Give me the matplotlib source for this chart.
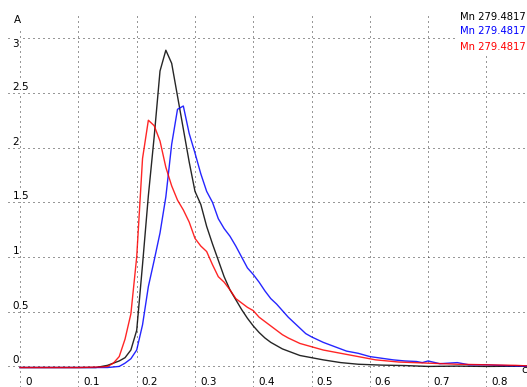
import matplotlib
matplotlib.use("Agg")
import matplotlib.pyplot as plt
from matplotlib.patches import Rectangle
from matplotlib.transforms import ScaledTranslation, blended_transform_factory

# series (x in time units, y in absorbance)
black_x = [0.0, 0.05, 0.10, 0.13, 0.14, 0.15, 0.16, 0.17, 0.18, 0.19, 0.20, 0.21, 0.22, 0.23,
           0.24, 0.25, 0.26, 0.27, 0.28, 0.29, 0.30, 0.31, 0.32, 0.33, 0.34, 0.35, 0.36, 0.37,
           0.38, 0.39, 0.40, 0.41, 0.42, 0.43, 0.44, 0.45, 0.46, 0.48, 0.50, 0.52, 0.55, 0.58,
           0.62, 0.66, 0.70, 0.75, 0.80, 0.87]
black_y = [-0.01, -0.01, -0.01, -0.01, 0.0, 0.01, 0.03, 0.05, 0.08, 0.15, 0.33, 0.93, 1.56, 2.10,
           2.70, 2.89, 2.77, 2.47, 2.17, 1.87, 1.60, 1.48, 1.28, 1.12, 0.97, 0.82, 0.70, 0.61,
           0.52, 0.44, 0.37, 0.31, 0.26, 0.22, 0.19, 0.16, 0.14, 0.10, 0.08, 0.06, 0.035, 0.02,
           0.012, 0.008, 0.0, 0.003, 0.0, 0.003]

blue_x = [0.0, 0.05, 0.10, 0.15, 0.16, 0.17, 0.18, 0.19, 0.20, 0.21, 0.22, 0.23, 0.24, 0.25,
          0.26, 0.27, 0.28, 0.29, 0.30, 0.31, 0.32, 0.33, 0.34, 0.35, 0.36, 0.37, 0.38, 0.39,
          0.40, 0.41, 0.42, 0.43, 0.44, 0.45, 0.46, 0.47, 0.48, 0.49, 0.50, 0.52, 0.54, 0.56,
          0.58, 0.60, 0.62, 0.64, 0.66, 0.68, 0.69, 0.70, 0.72, 0.75, 0.77, 0.80, 0.82, 0.85, 0.87]
blue_y = [-0.01, -0.01, -0.01, -0.01, -0.005, 0.0, 0.03, 0.07, 0.15, 0.38, 0.73, 0.97, 1.22, 1.55,
          2.03, 2.35, 2.38, 2.13, 1.95, 1.76, 1.60, 1.50, 1.35, 1.26, 1.19, 1.10, 1.00, 0.90,
          0.84, 0.77, 0.69, 0.62, 0.57, 0.51, 0.45, 0.40, 0.35, 0.30, 0.27, 0.22, 0.18, 0.14,
          0.12, 0.09, 0.075, 0.06, 0.05, 0.045, 0.035, 0.05, 0.025, 0.035, 0.015, 0.015, 0.01,
          0.005, 0.0]

red_x = [0.0, 0.05, 0.10, 0.14, 0.15, 0.16, 0.17, 0.18, 0.19, 0.20, 0.21, 0.22, 0.23, 0.24,
         0.25, 0.26, 0.27, 0.28, 0.29, 0.30, 0.31, 0.32, 0.33, 0.34, 0.35, 0.36, 0.37, 0.38,
         0.39, 0.40, 0.41, 0.42, 0.43, 0.44, 0.45, 0.46, 0.48, 0.50, 0.52, 0.55, 0.58, 0.61,
         0.65, 0.70, 0.75, 0.80, 0.85, 0.87]
red_y = [-0.01, -0.01, -0.01, -0.005, 0.0, 0.03, 0.09, 0.25, 0.48, 1.0, 1.90, 2.25, 2.20, 2.06,
         1.82, 1.65, 1.52, 1.43, 1.32, 1.17, 1.10, 1.05, 0.93, 0.82, 0.77, 0.70, 0.62, 0.58,
         0.54, 0.51, 0.45, 0.41, 0.37, 0.33, 0.29, 0.26, 0.21, 0.18, 0.15, 0.12, 0.09, 0.06,
         0.04, 0.03, 0.02, 0.015, 0.01, 0.005]

series_labels = ["Mn 279.4817", "Mn 279.4817", "Mn 279.4817"]
series_colors = ["#000000", "#0000ff", "#ff0000"]

x_ticks = [0.0, 0.1, 0.2, 0.3, 0.4, 0.5, 0.6, 0.7, 0.8]
x_tick_labels = ["0", "0.1", "0.2", "0.3", "0.4", "0.5", "0.6", "0.7", "0.8"]
y_ticks = [0.0, 0.5, 1.0, 1.5, 2.0, 2.5, 3.0]
y_tick_labels = ["0", "0.5", "1", "1.5", "2", "2.5", "3"]

W, H = 527, 387
fig = plt.figure(figsize=(W / 100, H / 100), dpi=100)
ax = fig.add_axes([8 / W, 0, 519 / W, 374 / H])
ax.set_xlim(-0.0208, 0.8696)
ax.set_ylim(-0.188, 3.230)
for s in ax.spines.values():
    s.set_visible(False)
ax.set_xticks(x_ticks)
ax.set_yticks(y_ticks)
ax.tick_params(length=0, labelbottom=False, labelleft=False)
ax.set_axisbelow(True)
ax.grid(True, color="#333333", linewidth=0.72, linestyle=(0, (1, 4)))

for xs, ys, c in zip([black_x, blue_x, red_x], [black_y, blue_y, red_y], series_colors):
    ax.plot(xs, ys, color=c, lw=1.0, alpha=0.85, zorder=3)

font = "DejaVu Sans"
px = lambda dx, dy: ScaledTranslation(dx / 100, dy / 100, fig.dpi_scale_trans)

# x tick labels, right of their grid line
bx = blended_transform_factory(ax.transData, ax.transAxes)
for v, lab in zip(x_ticks, x_tick_labels):
    ax.text(v, 5 / 374, lab, transform=bx + px(5, 0), ha="left", va="center",
            fontsize=7.5, family=font, clip_on=False)

# y tick labels, above their grid line
by = blended_transform_factory(ax.transAxes, ax.transData)
for v, lab in zip(y_ticks, y_tick_labels):
    if v == y_ticks[-1]:
        t = ax.text(4.5 / 519, v, lab, transform=by + px(0, -1), ha="left", va="top",
                    fontsize=7.5, family=font)
    else:
        t = ax.text(4.5 / 519, v, lab, transform=by + px(0, 3), ha="left", va="baseline",
                    fontsize=7.5, family=font)
    t.set_bbox(dict(facecolor="white", edgecolor="none", pad=0.5))

# axis units
fig.text(14 / W, 1 - 20 / H, "A", ha="left", va="center", fontsize=7.5, family=font,
         bbox=dict(facecolor="white", edgecolor="none", pad=2))
fig.text(521 / W, 1 - 370 / H, "с", ha="left", va="center", fontsize=7.5, family=font)

# legend box at top right
ax.add_patch(Rectangle((456 / W, 1 - 54 / H), 72 / W, 47 / H, transform=fig.transFigure,
                       facecolor="white", edgecolor="none", zorder=1.5, clip_on=False))
for i, (lab, c) in enumerate(zip(series_labels, series_colors)):
    fig.text(460 / W, 1 - (16.5 + 15 * i) / H, lab, color=c, ha="left", va="center",
             fontsize=7.2, family=font)

fig.savefig("out.png", dpi=100)
